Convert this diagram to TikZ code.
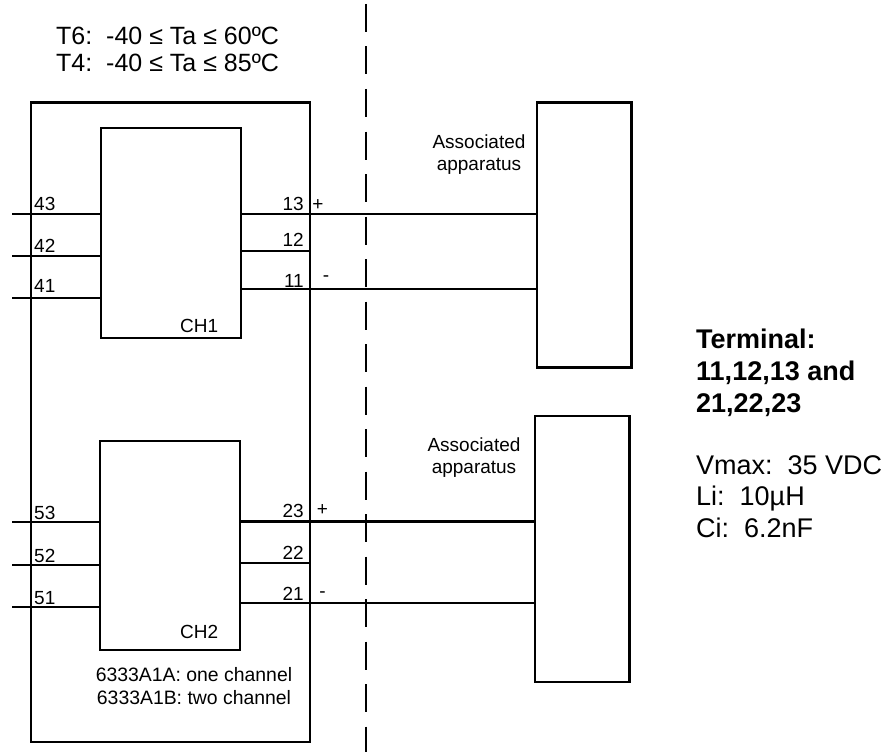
\documentclass[tikz,border=0pt]{standalone}
\usepackage{fontspec}
\setmainfont{Liberation Sans}
\tikzset{
  wirelabel/.style={font=\fontsize{19pt}{22pt}\selectfont, inner sep=0pt},
  box/.style={draw, line width=2.5pt},
  wire/.style={line width=2.5pt},
  thinwire/.style={line width=2.2pt},
}
\begin{document}
\begin{tikzpicture}[x=1pt, y=-1pt]
\useasboundingbox (0,0) rectangle (889,752);

% Trennlinie
  \coordinate (barriertop) at (366,4);
  \coordinate (barrierbottom) at (366,752);
  \draw[line width=2.5pt, dash pattern=on 28pt off 14.5pt] (barriertop) -- (barrierbottom);

% Gehaeuse und Kanaele
  \draw[box] (31,102.5) rectangle (310,742);
  \node[box, minimum width=140pt, minimum height=210pt, inner sep=0pt] (chone) at (171,233) {};
  \node[box, minimum width=140pt, minimum height=209pt, inner sep=0pt] (chtwo) at (170,545.5) {};
  \node[box, minimum width=94.5pt, minimum height=265pt, inner sep=0pt] (appone) at (584,235) {};
  \node[box, minimum width=94.5pt, minimum height=266pt, inner sep=0pt] (apptwo) at (582,549) {};

% Klemmen links
  \foreach \n/\y/\b in {43/214/210,42/256/252,41/298/292} {
    \coordinate (l\n) at (12,\y);
    \draw[thinwire] (l\n) -- (chone.west |- l\n);
    \node[wirelabel, anchor=base west] (t\n) at (34,\b) {\n};
  }
  \foreach \n/\y/\b in {53/522/519,52/565/562,51/607/604} {
    \coordinate (l\n) at (12,\y);
    \draw[thinwire] (l\n) -- (chtwo.west |- l\n);
    \node[wirelabel, anchor=base west] (t\n) at (34,\b) {\n};
  }

% Klemmen rechts
  \foreach \n/\y/\b in {13/214/210,11/289/287} {
    \coordinate (r\n) at (100,\y);
    \draw[wire] (chone.east |- r\n) -- (appone.west |- r\n);
    \node[wirelabel, anchor=base east] (t\n) at (304,\b) {\n};
  }
  \coordinate (r12) at (100,251);
  \coordinate (s12) at (310,251);
  \draw[thinwire] (chone.east |- r12) -- (s12);
  \node[wirelabel, anchor=base east] (t12) at (304,246) {12};
  \coordinate (r23) at (100,521.5);
  \draw[wire] (chtwo.east |- r23) -- (apptwo.west |- r23);
  \node[wirelabel, anchor=base east] (t23) at (304,517) {23};
  \coordinate (r21) at (100,603);
  \draw[thinwire] (chtwo.east |- r21) -- (apptwo.west |- r21);
  \node[wirelabel, anchor=base east] (t21) at (304,600) {21};
  \coordinate (r22) at (100,563);
  \coordinate (s22) at (310,563);
  \draw[thinwire] (chtwo.east |- r22) -- (s22);
  \node[wirelabel, anchor=base east] (t22) at (304,559) {22};

% Texte
  \node[wirelabel] (plusone) at (318,205) {+};
  \node[wirelabel] (minusone) at (326,279) {-};
  \node[wirelabel] (plustwo) at (322.5,510) {+};
  \node[wirelabel] (minustwo) at (322.5,595) {-};
  \node[wirelabel, anchor=base west] (chonelabel) at (180,332) {CH1};
  \node[wirelabel, anchor=base west] (chtwolabel) at (180,638) {CH2};
  \node[wirelabel, align=center, anchor=base] (appnameone) at (479,170) {Associated\\apparatus};
  \node[wirelabel, align=center, anchor=base] (appnametwo) at (474,473) {Associated\\apparatus};
  \node[font=\fontsize{19.4pt}{22.4pt}\selectfont, align=center, anchor=base, inner sep=0pt] (models) at (194,704) {6333A1A: one channel\\6333A1B: two channel};
  \node[font=\fontsize{25pt}{28pt}\selectfont, align=left, anchor=base west, inner sep=0pt] (temps) at (56,72) {T6:\ \ -40 ≤ Ta ≤ 60ºC\\T4:\ \ -40 ≤ Ta ≤ 85ºC};
  \node[font=\fontsize{27pt}{32pt}\selectfont\bfseries, align=left, anchor=base west, inner sep=0pt] (termhead) at (696,412) {Terminal:\\11,12,13 and\\21,22,23};
  \node[font=\fontsize{27pt}{31.5pt}\selectfont, align=left, anchor=base west, inner sep=0pt] (termdata) at (696,537) {Vmax:\ \ 35 VDC\\Li:\ \ 10µH\\Ci:\ \ 6.2nF};
\end{tikzpicture}
\end{document}
